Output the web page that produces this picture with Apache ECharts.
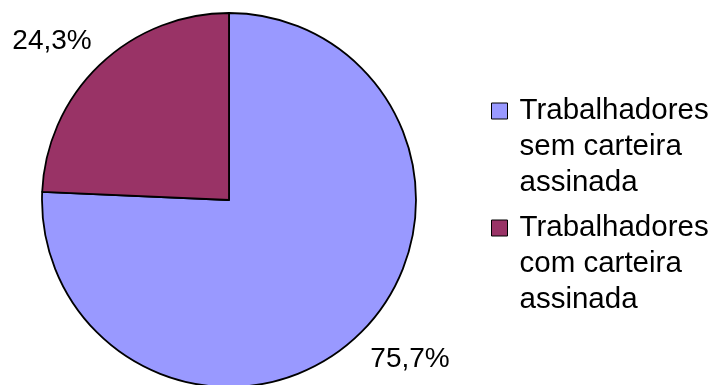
<!DOCTYPE html>
<html>
<head>
<meta charset="utf-8">
<script src="https://cdn.jsdelivr.net/npm/echarts@6/dist/echarts.min.js"></script>
<style>
  html, body { margin: 0; padding: 0; background: #fff; }
  #chart { width: 709px; height: 385px; }
</style>
</head>
<body>
<div id="chart"></div>
<script>
// Distribuição dos trabalhadores por situação da carteira de trabalho
const categories = [
  'Trabalhadores\nsem carteira\nassinada',
  'Trabalhadores\ncom carteira\nassinada'
];
const shares = [75.7, 24.3];
const sliceColors = ['#9999FF', '#993366'];

// Where each percentage label sits, next to its slice
const labelSpots = [
  { x: 410, y: 359 },
  { x: 52, y: 41 }
];

const FONT = '"Liberation Sans", Arial, sans-serif';

const chart = echarts.init(document.getElementById('chart'), null, { renderer: 'canvas' });

// The legend centres the swatch on the text block; two blank lines on top
// bring the first line of each entry level with its swatch.
const legendBase = {
  orient: 'vertical',
  left: 491,
  padding: 0,
  itemWidth: 16,
  itemHeight: 16,
  icon: 'rect',
  selectedMode: false,
  itemStyle: { borderColor: '#000', borderWidth: 1 },
  formatter: name => '\n\n' + name,
  textStyle: {
    fontFamily: FONT,
    fontSize: 29.5,
    lineHeight: 36,
    color: '#000',
    padding: [0, 0, 0, 7]
  }
};

chart.setOption({
  animation: false,
  backgroundColor: '#fff',
  legend: [
    Object.assign({}, legendBase, { top: 21, data: [categories[0]] }),
    Object.assign({}, legendBase, { top: 138, data: [categories[1]] })
  ],
  series: [{
    type: 'pie',
    center: [229, 200],
    radius: 187,
    startAngle: 90,
    clockwise: true,
    avoidLabelOverlap: false,
    itemStyle: { borderColor: '#000', borderWidth: 1.8 },
    label: {
      show: true,
      position: 'outside',
      fontFamily: FONT,
      fontSize: 28,
      color: '#000',
      formatter: p => p.value.toFixed(1).replace('.', ',') + '%'
    },
    labelLine: { show: false },
    labelLayout: p => ({
      x: labelSpots[p.dataIndex].x,
      y: labelSpots[p.dataIndex].y,
      align: 'center',
      verticalAlign: 'middle'
    }),
    emphasis: { disabled: true },
    data: categories.map((name, i) => ({
      name: name,
      value: shares[i],
      itemStyle: { color: sliceColors[i] }
    }))
  }]
});
</script>
</body>
</html>
